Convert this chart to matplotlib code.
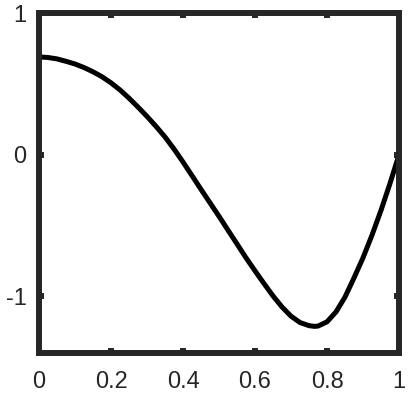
import matplotlib
matplotlib.use("Agg")
import matplotlib.pyplot as plt

x_vals = [0.000, 0.025, 0.050, 0.075, 0.100, 0.125, 0.150, 0.175, 0.200, 0.225,
          0.250, 0.275, 0.300, 0.325, 0.350, 0.375, 0.400, 0.425, 0.450, 0.475,
          0.500, 0.525, 0.550, 0.575, 0.600, 0.625, 0.650, 0.675, 0.700, 0.725,
          0.750, 0.765, 0.775, 0.800, 0.825, 0.850, 0.875, 0.900, 0.925, 0.950,
          0.975, 1.000]
y_vals = [0.690, 0.686, 0.676, 0.659, 0.640, 0.615, 0.585, 0.550, 0.507, 0.457,
          0.399, 0.336, 0.270, 0.200, 0.125, 0.040, -0.052, -0.148, -0.245, -0.340,
          -0.435, -0.533, -0.630, -0.728, -0.820, -0.910, -0.997, -1.075, -1.140, -1.185,
          -1.207, -1.212, -1.210, -1.180, -1.110, -1.005, -0.870, -0.728, -0.568, -0.393,
          -0.203, 0.000]
x_ticks = [0, 0.2, 0.4, 0.6, 0.8, 1]
x_ticklabels = ["0", "0.2", "0.4", "0.6", "0.8", "1"]
y_ticks = [-1, 0, 1]
y_ticklabels = ["-1", "0", "1"]

plt.rcParams['font.family'] = ['Liberation Sans', 'DejaVu Sans']
W, H = 413, 400
fig = plt.figure(figsize=(W / 100, H / 100), dpi=100)
l, r, t, b = 39, 399, 13, 353
ax = fig.add_axes([l / W, (H - b) / H, (r - l) / W, (b - t) / H])
ax.plot(x_vals, y_vals, color='black', lw=3.6, solid_capstyle='butt',
        solid_joinstyle='round')
ax.set_xlim(0, 1)
ax.set_ylim(-1.4, 1)
ax.set_xticks(x_ticks)
ax.set_xticklabels(x_ticklabels)
ax.set_yticks(y_ticks)
ax.set_yticklabels(y_ticklabels)
for s in ax.spines.values():
    s.set_linewidth(4.3)
    s.set_color('#262626')
ax.tick_params(axis='both', direction='in', length=3.5, width=4.3, color='#262626',
               labelsize=17, labelcolor='#262626', top=True, right=True)
ax.tick_params(axis='x', pad=13)
ax.tick_params(axis='y', pad=9)
fig.savefig('out.png', dpi=100)
